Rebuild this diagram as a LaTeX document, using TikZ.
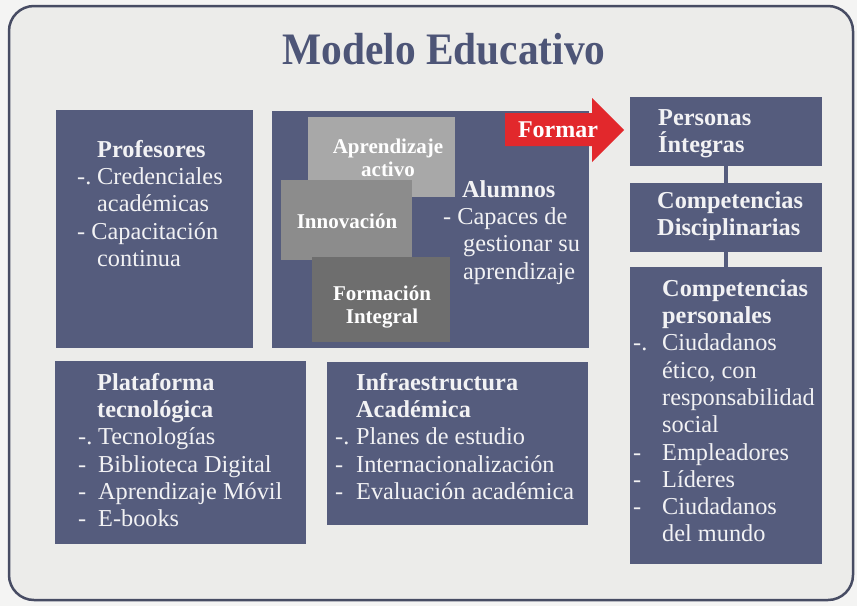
\documentclass[tikz,border=0pt]{standalone}
\usepackage{fontspec}
\usepackage{graphicx}
\setmainfont{Liberation Serif}
\definecolor{boxblue}{HTML}{555C7D}
\definecolor{titleblue}{HTML}{4D5577}
\definecolor{framecol}{HTML}{474C63}
\definecolor{pagebg}{HTML}{F4F4F3}
\definecolor{framebg}{HTML}{ECECEA}
\definecolor{txtwhite}{HTML}{F2F2F4}
\definecolor{graya}{HTML}{A8A8A8}
\definecolor{grayb}{HTML}{8C8C8C}
\definecolor{grayc}{HTML}{6E6E6E}
\definecolor{arrowred}{HTML}{E2282C}
\newcommand\bodyfont{\fontsize{24.3pt}{27.3pt}\selectfont}
\newcommand\graybold{\fontsize{21pt}{23pt}\selectfont\bfseries}
\begin{document}
\begin{tikzpicture}[x=1pt,y=-1pt,
  bluebox/.style={fill=boxblue,draw=none,inner sep=0pt,outer sep=0pt,anchor=north west},
  graybox/.style={draw=none,inner sep=0pt,outer sep=0pt,anchor=north west},
  txt/.style={anchor=north west,inner sep=0pt,align=left,text=txtwhite,font=\bodyfont},
  gtxt/.style={anchor=north,inner sep=0pt,align=center,text=white,font=\graybold},
  link/.style={draw=boxblue,line width=4pt}]
\useasboundingbox (0,0) rectangle (857,606);
\fill[pagebg] (0,0) rectangle (857,606);
\draw[framecol,fill=framebg,line width=2.5pt,rounded corners=25pt] (9,6) rectangle (853,600);
% title
\node[anchor=base,inner sep=0pt,text=titleblue,font=\fontsize{45pt}{50pt}\selectfont\bfseries] (title) at (444,64) {\scalebox{0.92}[1]{Modelo Educativo}};
% blue boxes
\node[bluebox,minimum width=197pt,minimum height=238pt] (prof) at (56,110) {};
\node[bluebox,minimum width=317pt,minimum height=237pt] (alum) at (272,111) {};
\node[bluebox,minimum width=251pt,minimum height=183pt] (plat) at (55,361) {};
\node[bluebox,minimum width=261pt,minimum height=163pt] (infra) at (327,362) {};
\node[bluebox,minimum width=192pt,minimum height=69pt] (pi) at (630,97) {};
\node[bluebox,minimum width=192pt,minimum height=69pt] (cd) at (630,183) {};
\node[bluebox,minimum width=192pt,minimum height=297pt] (cp) at (630,267) {};
\draw[link] (pi.south) -- (cd.north);
\draw[link] (cd.south) -- (cp.north);
% gray boxes
\node[graybox,fill=graya,minimum width=147pt,minimum height=80pt] (aa) at (308,117) {};
\node[graybox,fill=grayb,minimum width=131pt,minimum height=80pt] (inn) at (281,180) {};
\node[graybox,fill=grayc,minimum width=138pt,minimum height=85pt] (fi) at (312,257) {};
\node[gtxt] (aatxt) at (388,138) {\rule{0pt}{15pt}Aprendizaje\\activo};
\node[gtxt] (inntxt) at (347,213) {\rule{0pt}{15pt}Innovación};
\node[gtxt] (fitxt) at (382,285) {\rule{0pt}{15pt}Formación\\Integral};
% arrow
\fill[arrowred] (505,113) -- (592,113) -- (592,98) -- (624,130) -- (592,162) -- (592,146) -- (505,146) -- cycle;
\node[anchor=base,inner sep=0pt,text=white,font=\fontsize{24pt}{27pt}\selectfont\bfseries] (formar) at (558,137) {Formar};
% texts
\node[txt] (proftxt) at (77,137) {\rule{0pt}{20pt}\hspace*{20pt}\textbf{Profesores}\\\makebox[20pt][l]{-.}Credenciales\\\hspace*{20pt}académicas\\- Capacitación\\\hspace*{20pt}continua};
\node[txt] (alumtxt) at (443,177) {\rule{0pt}{20pt}\hspace*{19pt}\textbf{Alumnos}\\- Capaces de\\\hspace*{20pt}gestionar su\\\hspace*{20pt}aprendizaje};
\node[txt] (plattxt) at (78,370) {\rule{0pt}{20pt}\hspace*{19pt}\textbf{Plataforma}\\\hspace*{19pt}\textbf{tecnológica}\\\makebox[20pt][l]{-.}Tecnologías\\\makebox[20pt][l]{-}Biblioteca Digital\\\makebox[20pt][l]{-}Aprendizaje Móvil\\\makebox[20pt][l]{-}E-books};
\node[txt] (infratxt) at (335,370) {\rule{0pt}{20pt}\hspace*{21pt}\textbf{Infraestructura}\\\hspace*{21pt}\textbf{Académica}\\\makebox[21pt][l]{-.}Planes de estudio\\\makebox[21pt][l]{-}Internacionalización\\\makebox[21pt][l]{-}Evaluación académica};
\node[txt] (pitxt) at (658,105) {\rule{0pt}{20pt}\textbf{Personas}\\\textbf{Íntegras}};
\node[txt] (cdtxt) at (657,188) {\rule{0pt}{20pt}\textbf{Competencias}\\\textbf{Disciplinarias}};
\node[txt] (cptxt) at (633,276) {\rule{0pt}{20pt}\hspace*{29pt}\textbf{Competencias}\\\hspace*{29pt}\textbf{personales}\\\makebox[29pt][l]{-.}Ciudadanos\\\hspace*{29pt}ético, con\\\hspace*{29pt}responsabilidad\\\hspace*{29pt}social\\\makebox[29pt][l]{-}Empleadores\\\makebox[29pt][l]{-}Líderes\\\makebox[29pt][l]{-}Ciudadanos\\\hspace*{29pt}del mundo};
\end{tikzpicture}
\end{document}
